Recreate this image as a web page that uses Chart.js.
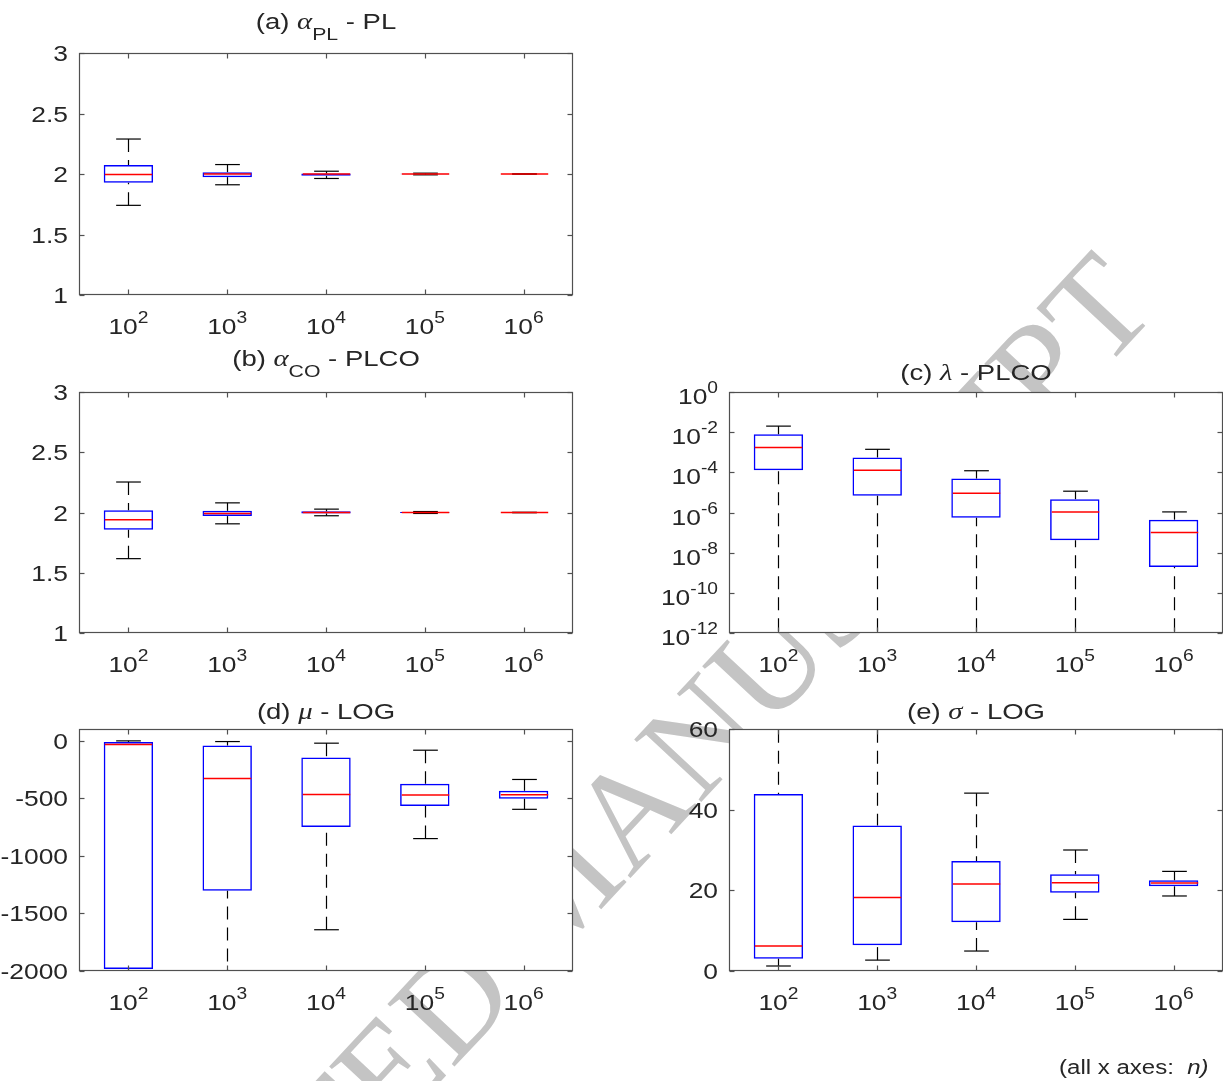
<!DOCTYPE html>
<html>
<head>
<meta charset="utf-8">
<script src="https://cdn.jsdelivr.net/npm/chart.js@4.4.1/dist/chart.umd.min.js"></script>
<style>
  body { margin: 0; background: #fff; }
  #page { position: relative; width: 1223px; height: 1081px; overflow: hidden; }
  #page canvas { position: absolute; }
  #nota { position: absolute; right: 15px; top: 1057px; font: 20px 'Liberation Sans', Arial, sans-serif; color: #262626; line-height: 20px; white-space: nowrap; transform: scaleX(1.2); transform-origin: right top; }
</style>
</head>
<body>
<div id="page">
  <canvas id="marca" width="1223" height="1081" style="left:0;top:0"></canvas>
  <canvas id="chartA" width="600" height="345" style="left:0;top:0"></canvas>
  <canvas id="chartB" width="600" height="345" style="left:0;top:345px"></canvas>
  <canvas id="chartC" width="583" height="345" style="left:640px;top:345px"></canvas>
  <canvas id="chartD" width="600" height="345" style="left:0;top:690px"></canvas>
  <canvas id="chartE" width="583" height="345" style="left:640px;top:690px"></canvas>
  <div id="nota">(all x axes:&nbsp; <i>n)</i></div>
</div>
<script>
// categorias (n)
const categories = ['10^2', '10^3', '10^4', '10^5', '10^6'];

// (a) alpha - PL
const aLow  = [1.741, 1.911, 1.963, 1.993, 1.998];
const aQ1   = [1.927, 1.974, 1.985, 1.997, 1.999];
const aMed  = [1.996, 2.000, 2.000, 2.000, 2.000];
const aQ3   = [2.075, 2.015, 2.004, 2.003, 2.001];
const aHigh = [2.289, 2.078, 2.023, 2.007, 2.002];

// (b) alpha - PLCO
const bLow  = [1.617, 1.906, 1.973, 1.992, 1.998];
const bQ1   = [1.857, 1.970, 1.992, 1.996, 1.999];
const bMed  = [1.939, 1.992, 2.000, 2.000, 2.000];
const bQ3   = [2.019, 2.014, 2.010, 2.004, 2.001];
const bHigh = [2.253, 2.080, 2.028, 2.008, 2.002];

// (c) lambda - PLCO (escala log)
const cLow  = [1e-14, 1e-14, 1e-14, 1e-14, 1e-14];
const cQ1   = [1.26e-4, 6.8e-6, 5.5e-7, 4.1e-8, 1.95e-9];
const cMed  = [1.7e-3, 1.26e-4, 9.1e-6, 1.05e-6, 1.02e-7];
const cQ3   = [7.9e-3, 5.5e-4, 4.9e-5, 4.6e-6, 4.4e-7];
const cHigh = [2.0e-2, 1.4e-3, 1.2e-4, 1.15e-5, 1.07e-6];

// (d) mu - LOG
const dLow  = [-2100, -2100, -1642, -851, -597];
const dQ1   = [-1983, -1304, -750, -569, -505];
const dMed  = [-35, -329, -468, -473, -470];
const dQ3   = [-12, -43, -147, -375, -436];
const dHigh = [-3, -9, -23, -84, -338];

// (e) sigma - LOG
const eLow  = [1.24, 2.7, 4.95, 12.8, 18.6];
const eQ1   = [3.05, 6.4, 12.1, 19.4, 21.0];
const eMed  = [6.2, 18.2, 21.6, 21.9, 21.8];
const eQ3   = [43.9, 36.1, 27.3, 24.0, 22.5];
const eHigh = [65, 65, 44.1, 30.0, 24.7];

// ticks do eixo y
const ticksAB = [1, 1.5, 2, 2.5, 3];
const ticksC = [1e-12, 1e-10, 1e-8, 1e-6, 1e-4, 1e-2, 1];
const ticksCLabels = ['10^-12', '10^-10', '10^-8', '10^-6', '10^-4', '10^-2', '10^0'];
const ticksD = [-2000, -1500, -1000, -500, 0];
const ticksE = [0, 20, 40, 60];

const FONT = "'Liberation Sans', Arial, sans-serif";
const TXT = '#262626';
const AXIS = '#505050';
const SX = 1.2;   // texto do original é mais largo

// marca d'agua ao fundo
(function () {
    const wm = document.getElementById('marca').getContext('2d');
    wm.save();
    wm.translate(1160, 310);
    wm.rotate(-47 * Math.PI / 180);
    wm.font = "140px 'Liberation Serif', serif";
    wm.fillStyle = '#c4c4c4';
    wm.textAlign = 'right';
    wm.fillText('ACCEPTED MANUSCRIPT', 0, 0);
    wm.restore();
})();

// texto alargado na horizontal, ancorado à esquerda
function textW(ctx, font, s, sx) {
    ctx.font = font;
    return ctx.measureText(s).width * sx;
}
function fillWide(ctx, font, s, x, y, sx) {
    ctx.save();
    ctx.font = font;
    ctx.textAlign = 'left';
    ctx.translate(x, y);
    ctx.scale(sx, 1);
    ctx.fillText(s, 0, 0);
    ctx.restore();
}

function drawPow(ctx, label, x, y, align) {
    const [base, exp] = label.split('^');
    const fb = `22px ${FONT}`, fe = `16px ${FONT}`;
    const wb = textW(ctx, fb, base, SX), we = textW(ctx, fe, exp, SX);
    const x0 = align === 'right' ? x - wb - we : x - (wb + we) / 2;
    fillWide(ctx, fb, base, x0, y, SX);
    fillWide(ctx, fe, exp, x0 + wb, y - 11, SX);
}

function drawTitle(ctx, parts, cx, y) {
    const tx = 1.25;
    const fontFor = p => p[1] === 'i' ? "italic 23px 'Liberation Serif', serif"
        : p[1] === 'sub' ? `17px ${FONT}` : `22px ${FONT}`;
    const widths = parts.map(p => textW(ctx, fontFor(p), p[0], tx));
    let x = cx - widths.reduce((s, w) => s + w, 0) / 2;
    parts.forEach((p, i) => {
        fillWide(ctx, fontFor(p), p[0], x, y + (p[1] === 'sub' ? 11 : 0), tx);
        x += widths[i];
    });
}

function line(ctx, x1, y1, x2, y2) {
    ctx.beginPath(); ctx.moveTo(x1, y1); ctx.lineTo(x2, y2); ctx.stroke();
}

// plugin que desenha bigodes, medianas, eixos e textos no estilo MATLAB
function boxPlugin(cfg) {
    return {
        id: 'boxPlot',
        beforeDraw(chart) {
            const { ctx, chartArea: a } = chart;
            ctx.save();
            ctx.fillStyle = '#fff';
            ctx.fillRect(a.left, a.top, a.right - a.left, a.bottom - a.top);
            ctx.restore();
        },
        afterDatasetsDraw(chart) {
            const { ctx, chartArea: a, scales: { x, y } } = chart;
            const step = x.getPixelForValue(1) - x.getPixelForValue(0);
            const capHalf = step / 8, boxHalf = step / 4;
            ctx.save();
            ctx.beginPath();
            ctx.rect(a.left, a.top, a.right - a.left, a.bottom - a.top);
            ctx.clip();
            cfg.med.forEach((m, i) => {
                const cx = Math.round(x.getPixelForValue(i)) + 0.5;
                const yH = y.getPixelForValue(cfg.high[i]);
                const yL = y.getPixelForValue(cfg.low[i]);
                const yQ3 = y.getPixelForValue(cfg.q3[i]);
                const yQ1 = y.getPixelForValue(cfg.q1[i]);
                const yM = y.getPixelForValue(m);
                ctx.strokeStyle = '#000';
                ctx.lineWidth = 1.2;
                ctx.setLineDash([13, 8]);
                line(ctx, cx, yH, cx, yQ3);
                line(ctx, cx, yL, cx, yQ1);
                ctx.setLineDash([]);
                line(ctx, cx - capHalf, yH, cx + capHalf, yH);
                line(ctx, cx - capHalf, yL, cx + capHalf, yL);
                ctx.strokeStyle = '#ff0000';
                ctx.lineWidth = 1.5;
                line(ctx, cx - boxHalf + 1, yM, cx + boxHalf - 1, yM);
            });
            ctx.restore();
        },
        afterDraw(chart) {
            const { ctx, chartArea: a, scales: { x, y } } = chart;
            ctx.save();
            const L = Math.round(a.left) + 0.5, R = Math.round(a.right) - 0.5;
            const T = Math.round(a.top) + 0.5, B = Math.round(a.bottom) - 0.5;
            ctx.strokeStyle = AXIS;
            ctx.lineWidth = 1.2;
            ctx.strokeRect(L, T, R - L, B - T);
            // ticks para dentro nos quatro lados
            categories.forEach((c, i) => {
                const px = Math.round(x.getPixelForValue(i)) + 0.5;
                line(ctx, px, B, px, B - 5);
                line(ctx, px, T, px, T + 5);
            });
            cfg.ticks.forEach(v => {
                const py = Math.round(y.getPixelForValue(v)) + 0.5;
                line(ctx, L, py, L + 5, py);
                line(ctx, R, py, R - 5, py);
            });
            ctx.fillStyle = TXT;
            // rótulos do eixo x
            categories.forEach((c, i) => drawPow(ctx, c, x.getPixelForValue(i), a.bottom + 39, 'center'));
            // rótulos do eixo y
            cfg.ticks.forEach((v, i) => {
                const py = y.getPixelForValue(v);
                if (cfg.tickLabels) {
                    drawPow(ctx, cfg.tickLabels[i], a.left - 11, py + 12, 'right');
                } else {
                    const f = `22px ${FONT}`;
                    const s = String(v);
                    fillWide(ctx, f, s, a.left - 11 - textW(ctx, f, s, SX), py + 8, SX);
                }
            });
            drawTitle(ctx, cfg.title, (a.left + a.right) / 2, a.top - cfg.titleGap);
            ctx.restore();
        }
    };
}

function makeBoxChart(id, cfg) {
    return new Chart(document.getElementById(id), {
        type: 'bar',
        data: {
            labels: categories,
            datasets: [{
                data: cfg.q1.map((v, i) => [v, cfg.q3[i]]),
                backgroundColor: 'rgba(0,0,0,0)',
                borderColor: '#0000ff',
                borderWidth: 1.5,
                borderSkipped: false,
                barPercentage: 0.5,
                categoryPercentage: 1
            }]
        },
        options: {
            responsive: false,
            animation: false,
            events: [],
            layout: { padding: cfg.padding },
            plugins: { legend: { display: false }, tooltip: { enabled: false } },
            scales: {
                x: { display: false },
                y: { display: false, type: cfg.type || 'linear', min: cfg.min, max: cfg.max }
            }
        },
        plugins: [boxPlugin(cfg)]
    });
}

makeBoxChart('chartA', {
    low: aLow, q1: aQ1, med: aMed, q3: aQ3, high: aHigh,
    min: 1, max: 3, ticks: ticksAB,
    title: [['(a) ', ''], ['α', 'i'], ['PL', 'sub'], [' - PL', '']], titleGap: 24,
    padding: { left: 79, right: 27, top: 53, bottom: 50 }
});
makeBoxChart('chartB', {
    low: bLow, q1: bQ1, med: bMed, q3: bQ3, high: bHigh,
    min: 1, max: 3, ticks: ticksAB,
    title: [['(b) ', ''], ['α', 'i'], ['CO', 'sub'], [' - PLCO', '']], titleGap: 26,
    padding: { left: 79, right: 27, top: 47, bottom: 57 }
});
makeBoxChart('chartC', {
    low: cLow, q1: cQ1, med: cMed, q3: cQ3, high: cHigh,
    type: 'logarithmic', min: 1e-12, max: 1, ticks: ticksC, tickLabels: ticksCLabels,
    title: [['(c) ', ''], ['λ', 'i'], [' - PLCO', '']], titleGap: 12,
    padding: { left: 89, right: 0, top: 47, bottom: 57 }
});
makeBoxChart('chartD', {
    low: dLow, q1: dQ1, med: dMed, q3: dQ3, high: dHigh,
    min: -2000, max: 100, ticks: ticksD,
    title: [['(d) ', ''], ['μ', 'i'], [' - LOG', '']], titleGap: 10,
    padding: { left: 79, right: 27, top: 39, bottom: 64 }
});
makeBoxChart('chartE', {
    low: eLow, q1: eQ1, med: eMed, q3: eQ3, high: eHigh,
    min: 0, max: 60, ticks: ticksE,
    title: [['(e) ', ''], ['σ', 'i'], [' - LOG', '']], titleGap: 10,
    padding: { left: 89, right: 0, top: 39, bottom: 64 }
});
</script>
</body>
</html>
